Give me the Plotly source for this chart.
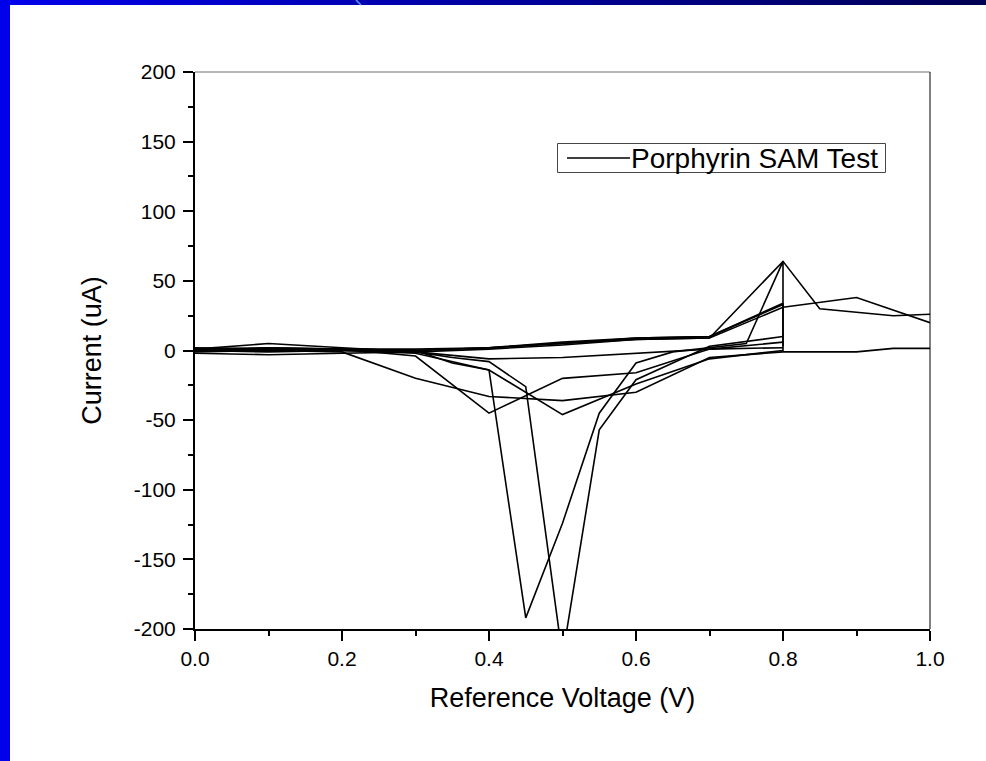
import plotly.graph_objects as go

# Reference voltage (V) and current (uA) for each scan segment of the one recorded trace
scan_voltages = [
    [0.0, 0.1, 0.2, 0.3, 0.4, 0.5, 0.6, 0.7, 0.8, 0.9, 1.0],
    [1.0, 0.95, 0.85, 0.8, 0.7, 0.6, 0.5, 0.4, 0.3, 0.2, 0.1, 0.0],
    [0.0, 0.1, 0.2, 0.3, 0.35, 0.4, 0.45, 0.5, 0.55, 0.6, 0.65, 0.7, 0.8],
    [0.0, 0.1, 0.2, 0.3, 0.4, 0.5, 0.6, 0.7, 0.8],
    [0.0, 0.1, 0.2, 0.3, 0.4, 0.5, 0.6, 0.7, 0.8, 0.9, 0.95, 1.0],
    [0.0, 0.1, 0.2, 0.3, 0.35, 0.4, 0.45, 0.5, 0.55, 0.6, 0.65, 0.75, 0.8, 0.8],
    [0.0, 0.1, 0.2, 0.3, 0.4, 0.45, 0.5, 0.6, 0.7, 0.8],
    [0.0, 0.1, 0.2, 0.3, 0.4, 0.5, 0.6, 0.7, 0.8, 0.8],
    [0.0, 0.1, 0.2, 0.3, 0.4, 0.5, 0.6, 0.7, 0.8],
    [0.0, 0.1, 0.2, 0.3, 0.4, 0.5, 0.6, 0.7, 0.8],
]
scan_currents = [
    [-2, -3, -2, -1, 1, 4, 8, 9, 31, 38, 20],
    [26, 25, 30, 64, 9, 8, 5, 2, 0, 0, -1, 0],
    [1, 5, 2, -1, -5, -8, -26, -220, -57, -21, -9, 3, 10],
    [2, 1, 1, -4, -45, -20, -16, 1, 6],
    [-1, 0, -1, -20, -33, -36, -30, -5, -1, -1, 1.5, 1.5],
    [0, 2, 1, 0, -9, -14, -192, -124, -45, -9, -1, 5, 64, -1],
    [1, 1, 0, -2, -14, -30, -46, -24, -6, 0],
    [1, 2, 1, 0, 2, 5, 9, 10, 33, 3],
    [0, 0, 0, -1, -6, -5, -2, 1, 2],
    [1, 1, 1, 1, 2, 6, 9, 10, 34],
]

series_name = "Porphyrin SAM Test"
x_ticks = [0.0, 0.2, 0.4, 0.6, 0.8, 1.0]
x_tick_labels = ["0.0", "0.2", "0.4", "0.6", "0.8", "1.0"]
y_ticks = [-200, -150, -100, -50, 0, 50, 100, 150, 200]
y_tick_labels = ["-200", "-150", "-100", "-50", "0", "50", "100", "150", "200"]

xs, ys = [], []
for vx, vy in zip(scan_voltages, scan_currents):
    xs += vx + [None]
    ys += vy + [None]

FONT = "Liberation Sans, Arial, sans-serif"

fig = go.Figure()
fig.add_trace(go.Scatter(
    x=xs, y=ys, mode="lines", name=series_name,
    line=dict(color="black", width=1.6), connectgaps=False, showlegend=False,
))

# plot-area pixel geometry used for the decorations
L, R, T, B = 195, 930, 72, 629
W, H = R - L, B - T
def px(xp):
    return (xp - L) / W
def py(yp):
    return (B - yp) / H

shapes = []
# top gradient stripe
n = 40
for i in range(n):
    x0 = 986 * i / n - 0.5
    x1 = 986 * (i + 1) / n + 0.5
    t = i / (n - 1)
    b = int(235 - t * 150)
    shapes.append(dict(type="rect", xref="paper", yref="paper",
                       x0=px(x0), x1=px(x1), y0=py(5), y1=py(-2),
                       fillcolor=f"rgb(0,0,{b})", line=dict(width=0)))
# left stripe
shapes.append(dict(type="rect", xref="paper", yref="paper",
                   x0=px(-2), x1=px(10), y0=py(770), y1=py(-2),
                   fillcolor="rgb(0,0,235)", line=dict(width=0)))
# small light stroke in the top stripe
shapes.append(dict(type="line", xref="paper", yref="paper",
                   x0=px(356), x1=px(361), y0=py(0), y1=py(5),
                   line=dict(color="rgb(90,150,255)", width=1.5)))
# top and right frame lines
shapes.append(dict(type="line", xref="paper", yref="paper", x0=0, x1=1, y0=1, y1=1,
                   line=dict(color="rgb(110,110,110)", width=1)))
shapes.append(dict(type="line", xref="paper", yref="paper", x0=1, x1=1, y0=0, y1=1,
                   line=dict(color="black", width=1)))
# legend box and sample line
shapes.append(dict(type="rect", xref="paper", yref="paper",
                   x0=px(557.5), x1=px(885.5), y0=py(172.5), y1=py(143.5),
                   fillcolor="white", line=dict(color="rgb(70,70,70)", width=1)))
shapes.append(dict(type="line", xref="paper", yref="paper",
                   x0=px(567), x1=px(630), y0=py(158), y1=py(158),
                   line=dict(color="black", width=1.6)))

annotations = [dict(
    text=series_name, xref="paper", yref="paper", x=px(629), y=py(158.5),
    xanchor="left", yanchor="middle", showarrow=False,
    font=dict(family=FONT, size=28, color="black"),
)]

fig.update_layout(
    width=986, height=761,
    margin=dict(l=L, r=986 - R, t=T, b=761 - B),
    paper_bgcolor="white", plot_bgcolor="white",
    font=dict(family=FONT, color="black", size=21),
    shapes=shapes, annotations=annotations,
    showlegend=False,
    xaxis=dict(
        range=[0, 1], tickvals=x_ticks, ticktext=x_tick_labels,
        showline=True, linecolor="black", linewidth=2,
        ticks="outside", ticklen=10, tickwidth=2, tickcolor="black",
        minor=dict(dtick=0.1, ticklen=5, tickwidth=2, tickcolor="black", ticks="outside"),
        showgrid=False, zeroline=False,
        tickfont=dict(size=21),
        title=dict(text="Reference Voltage (V)", font=dict(size=27), standoff=19),
    ),
    yaxis=dict(
        range=[-200, 200], tickvals=y_ticks, ticktext=y_tick_labels,
        showline=True, linecolor="black", linewidth=2,
        ticks="outside", ticklen=10, tickwidth=2, tickcolor="black",
        minor=dict(dtick=25, ticklen=5, tickwidth=2, tickcolor="black", ticks="outside"),
        showgrid=False, zeroline=False,
        tickfont=dict(size=21), ticklabelstandoff=3,
        title=dict(text="Current (uA)", font=dict(size=27), standoff=24),
    ),
)

fig.write_html("out.html", config={"displayModeBar": False},
               post_script="document.body.style.margin='0';")
